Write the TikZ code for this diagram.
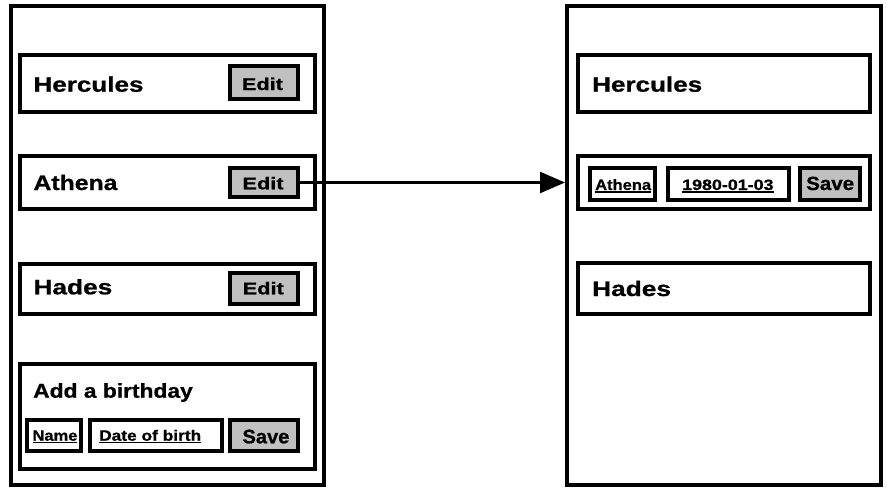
\documentclass[tikz,border=0pt]{standalone}
\usepackage{fontspec}
\setmainfont{Liberation Sans}[BoldFeatures={FakeBold=0.8}]
\usepackage{graphicx}
\usetikzlibrary{arrows.meta}
\definecolor{btngray}{RGB}{192,192,192}
\newcommand\sx[2]{\scalebox{#1}[1]{#2}}
\newcommand\ulin[1]{\setbox0\hbox{#1}\rlap{\rule[-2.6pt]{\wd0}{1.8pt}}\box0}
\newcommand\fs[1]{\fontsize{#1}{#1}\selectfont\bfseries}
\begin{document}
\begin{tikzpicture}[x=1pt,y=-1pt,
  box/.style={draw=black, line width=4pt, inner sep=0pt, rectangle, fill=white},
  btn/.style={box, fill=btngray},
  lbl/.style={anchor=base west, inner sep=0pt},
  conn/.style={draw=black, line width=2.5pt, -{Triangle[length=25pt,width=21pt]}}]
\useasboundingbox (0,0) rectangle (887,491);
% panels
\node[box, minimum width=312.5pt, minimum height=479pt] (lp) at (167.25,245.5) {};
\node[box, minimum width=314pt, minimum height=479pt] (rp) at (724,245.5) {};
% left rows
\node[box, minimum width=295pt, minimum height=57pt] (lr1) at (167.5,83.5) {};
\node[box, minimum width=295pt, minimum height=53pt] (lr2) at (167.5,182.5) {};
\node[box, minimum width=295pt, minimum height=50pt] (lr3) at (167.5,289) {};
\node[box, minimum width=295pt, minimum height=105pt] (lr4) at (167.5,416.5) {};
\node[btn, minimum width=68pt, minimum height=33pt] (e1) at (264,82.5) {};
\node[btn, minimum width=68pt, minimum height=29pt] (e2) at (264,182.5) {};
\node[btn, minimum width=68pt, minimum height=31pt] (e3) at (264,288.5) {};
\node[box, minimum width=54pt, minimum height=31pt] (fn) at (54,435.5) {};
\node[box, minimum width=132pt, minimum height=31pt] (fd) at (156,435.5) {};
\node[btn, minimum width=68pt, minimum height=31pt] (sl) at (264,435.5) {};
% right rows
\node[box, minimum width=292.5pt, minimum height=57pt] (rr1) at (723.75,83.5) {};
\node[box, minimum width=292.5pt, minimum height=53pt] (rr2) at (723.75,182.5) {};
\node[box, minimum width=292.5pt, minimum height=51pt] (rr3) at (723.75,288.5) {};
\node[box, minimum width=65pt, minimum height=32pt] (ra) at (622.5,184) {};
\node[box, minimum width=121pt, minimum height=32pt] (rd) at (728.5,184) {};
\node[btn, minimum width=60pt, minimum height=32pt] (sr) at (830,184) {};
% texts left
\node[lbl] (t1) at (33.3,91.7) {\fs{21}\sx{1.24}{Hercules}};
\node[lbl] (t2) at (33.3,190) {\fs{21}\sx{1.18}{Athena}};
\node[lbl] (t3) at (33.3,294.3) {\fs{21}\sx{1.25}{Hades}};
\node[lbl] (t4) at (33,397.7) {\fs{20}\sx{1.14}{Add a birthday}};
\node[lbl] (te1) at (241.7,90) {\fs{17}\sx{1.28}{Edit}};
\node[lbl] (te2) at (242.3,189.3) {\fs{17}\sx{1.28}{Edit}};
\node[lbl] (te3) at (242.5,294.3) {\fs{17}\sx{1.28}{Edit}};
\node[lbl] (tn) at (32.3,440.7) {\fs{15}\ulin{\sx{1.1}{Name}}};
\node[lbl] (tdb) at (99,440.7) {\fs{15}\ulin{\sx{1.155}{Date of birth}}};
\node[lbl] (tsl) at (242.3,443.3) {\fs{19.5}\sx{1.03}{Save}};
% texts right
\node[lbl] (u1) at (592,91.7) {\fs{21}\sx{1.24}{Hercules}};
\node[lbl] (u3) at (592,296) {\fs{21}\sx{1.25}{Hades}};
\node[lbl] (ua) at (595,190) {\fs{15}\ulin{\sx{1.1}{Athena}}};
\node[lbl] (ud) at (682,190) {\fs{15}\ulin{\sx{1.19}{1980-01-03}}};
\node[lbl] (us) at (806,190) {\fs{19}\sx{1.08}{Save}};
% connector
\draw[conn] (e2.east) -- (e2.east -| rp.west);
\end{tikzpicture}
\end{document}
